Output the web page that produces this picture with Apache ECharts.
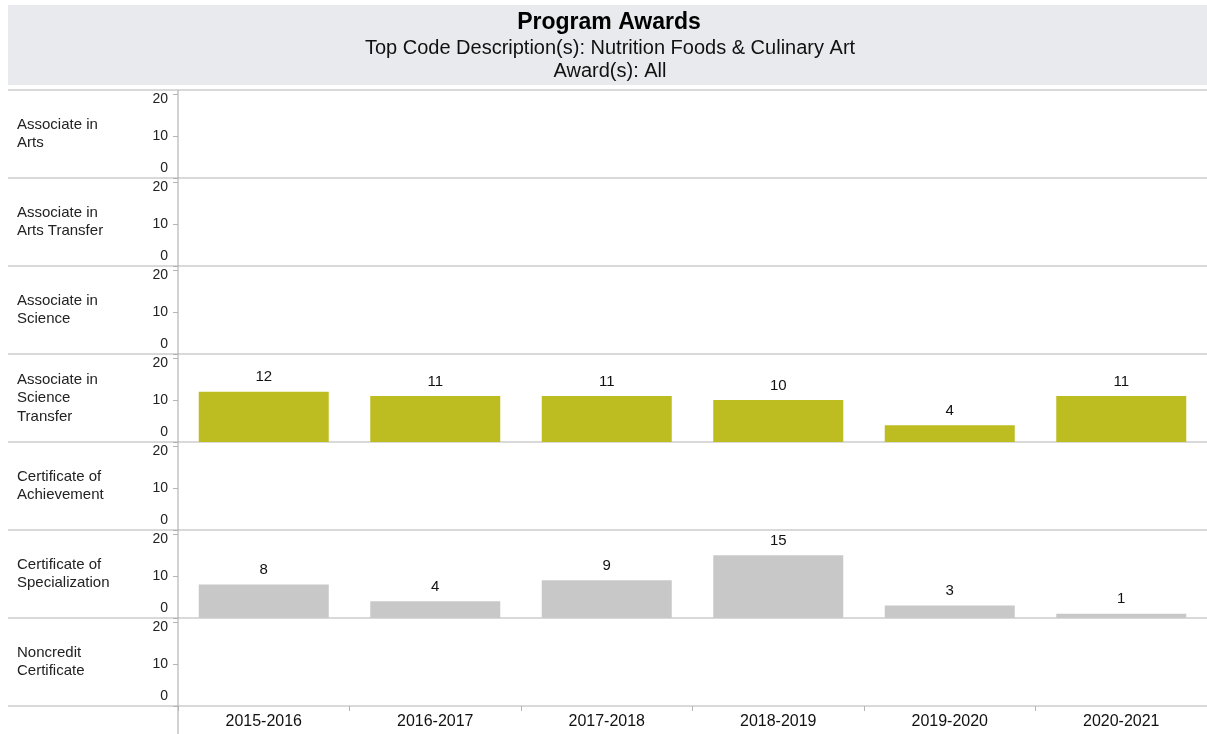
<!DOCTYPE html>
<html>
<head>
<meta charset="utf-8">
<script src="https://cdn.jsdelivr.net/npm/echarts@6/dist/echarts.min.js"></script>
<style>
  html, body { margin: 0; padding: 0; background: #fff; }
  #chart { width: 1207px; height: 734px; }
</style>
</head>
<body>
<div id="chart"></div>
<script>
// 数据
const years = ['2015-2016', '2016-2017', '2017-2018', '2018-2019', '2019-2020', '2020-2021'];
const rowNames = [
    'Associate in\nArts',
    'Associate in\nArts Transfer',
    'Associate in\nScience',
    'Associate in\nScience\nTransfer',
    'Certificate of\nAchievement',
    'Certificate of\nSpecialization',
    'Noncredit\nCertificate'
];
const sciTransfer = [12, 11, 11, 10, 4, 11];
const certSpec = [8, 4, 9, 15, 3, 1];
const yTicks = [0, 10, 20];

// 每一行的数据（没有数据的行为空）
const rowData = [null, null, null, sciTransfer, null, certSpec, null];
const rowColors = [null, null, null, '#bdbd21', null, '#c8c8c8', null];

const font = '"Liberation Sans", Arial, Helvetica, sans-serif';
const lineColor = '#b4b4b4';

// 布局
const plotLeft = 178;
const plotWidth = 1034;
const firstTop = 90;
const rowH = 88;

const chart = echarts.init(document.getElementById('chart'));

const grids = [], xAxes = [], yAxes = [], series = [], graphics = [];

// 标题背景
graphics.push({
    type: 'rect', shape: { x: 8, y: 5, width: 1199, height: 80 },
    style: { fill: '#e9eaee' }, silent: true, z: -1
});
graphics.push({
    type: 'text', x: 609, y: 23,
    style: { text: 'Program Awards', font: 'bold 23px ' + font, fill: '#000', align: 'center', verticalAlign: 'middle' }
});
graphics.push({
    type: 'text', x: 610, y: 48,
    style: { text: 'Top Code Description(s): Nutrition Foods & Culinary Art', font: '20px ' + font, fill: '#111', align: 'center', verticalAlign: 'middle' }
});
graphics.push({
    type: 'text', x: 610, y: 71,
    style: { text: 'Award(s): All', font: '20px ' + font, fill: '#111', align: 'center', verticalAlign: 'middle' }
});

rowNames.forEach((name, i) => {
    const top = firstTop + rowH * i;
    const isLast = i === rowNames.length - 1;
    grids.push({ left: plotLeft, top: top, width: plotWidth, height: rowH });

    xAxes.push({
        type: 'category', gridIndex: i, data: years,
        axisLine: { show: false },
        axisTick: { show: isLast, length: 5, lineStyle: { color: lineColor } },
        axisLabel: { show: isLast, margin: 8, fontSize: 16, fontFamily: font, color: '#111' }
    });

    yAxes.push({
        type: 'value', gridIndex: i, min: 0, max: 21,
        splitLine: { show: false },
        axisLine: { show: false },
        axisTick: { show: true, length: 5, customValues: yTicks, lineStyle: { color: lineColor } },
        axisLabel: {
            customValues: yTicks, margin: 10, fontSize: 14, fontFamily: font, color: '#222',
            formatter: v => v === 0 ? '{lo|0}' : (v === 20 ? '{hi|20}' : '{m|' + v + '}'),
            rich: {
                lo: { padding: [0, 0, 20, 0], fontSize: 14, fontFamily: font, color: '#222' },
                hi: { padding: [10, 0, 0, 0], fontSize: 14, fontFamily: font, color: '#222' },
                m: { fontSize: 14, fontFamily: font, color: '#222' }
            }
        }
    });

    if (rowData[i]) {
        series.push({
            type: 'bar', xAxisIndex: i, yAxisIndex: i,
            data: rowData[i], barWidth: 130,
            itemStyle: { color: rowColors[i] },
            label: { show: true, position: 'top', distance: 7, fontSize: 15, fontFamily: font, color: '#111' },
            silent: true
        });
    }

    // 行名
    graphics.push({
        type: 'text', x: 17, y: top + rowH / 2,
        style: { text: name, font: '15px ' + font, fill: '#222', verticalAlign: 'middle', lineHeight: 18.5 }
    });
    // 分隔线
    graphics.push({
        type: 'line', shape: { x1: 8, y1: top, x2: 1207, y2: top },
        style: { stroke: lineColor, lineWidth: 1.2 }, silent: true
    });
});

// 底部线和竖轴线
const bottom = firstTop + rowH * rowNames.length;
graphics.push({
    type: 'line', shape: { x1: 8, y1: bottom, x2: 1207, y2: bottom },
    style: { stroke: lineColor, lineWidth: 1.2 }, silent: true
});
graphics.push({
    type: 'line', shape: { x1: plotLeft, y1: firstTop, x2: plotLeft, y2: 734 },
    style: { stroke: lineColor, lineWidth: 1.2 }, silent: true
});

chart.setOption({
    animation: false,
    backgroundColor: '#fff',
    grid: grids,
    xAxis: xAxes,
    yAxis: yAxes,
    series: series,
    graphic: graphics
});
</script>
</body>
</html>
